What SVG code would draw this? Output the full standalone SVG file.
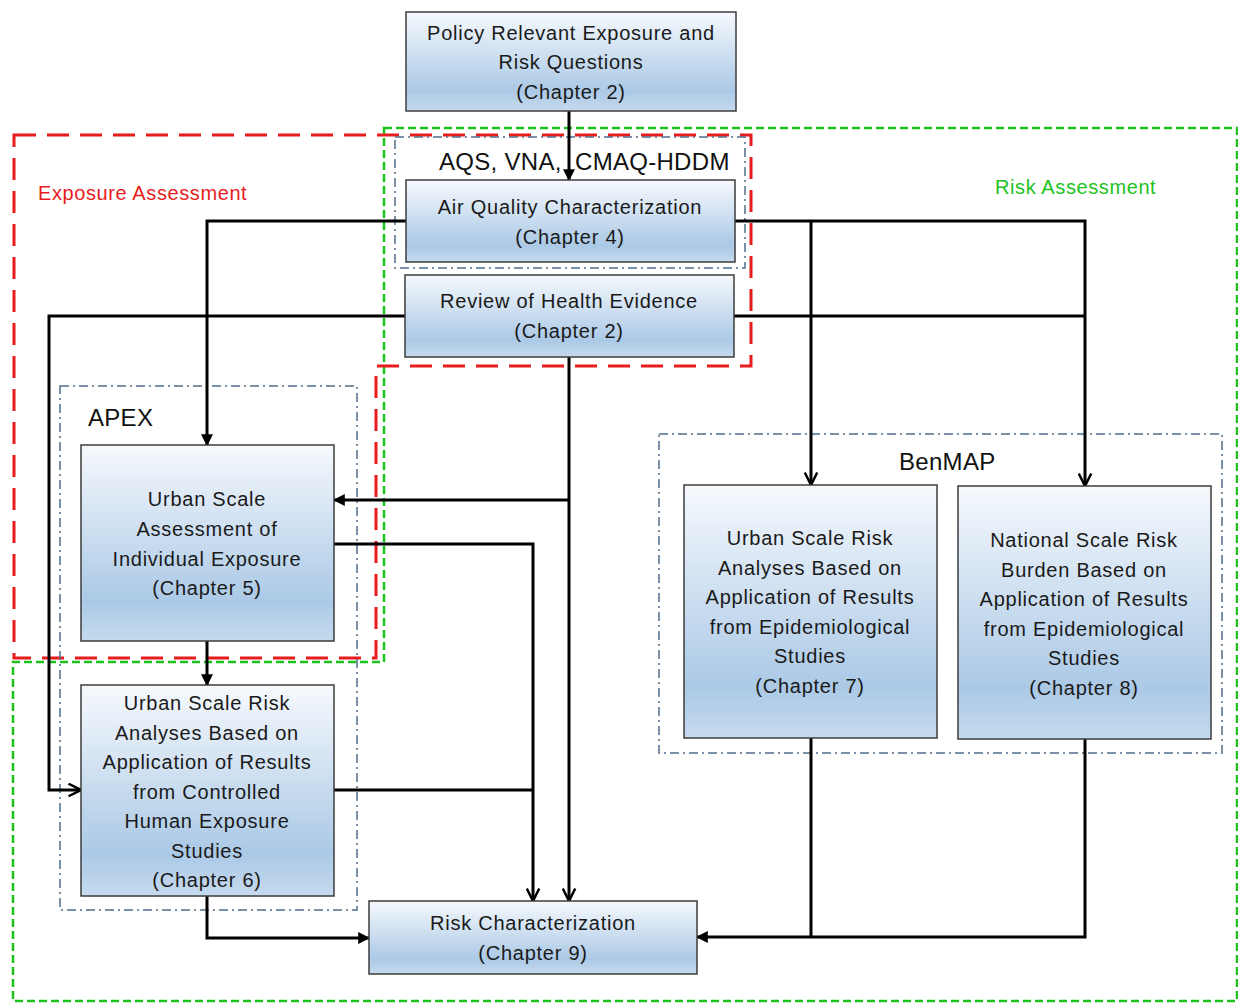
<svg xmlns="http://www.w3.org/2000/svg" width="1238" height="1004" viewBox="0 0 1238 1004">
  <defs>
    <linearGradient id="boxfill" x1="0" y1="0" x2="0" y2="1">
      <stop offset="0" stop-color="#f6f9fd"/>
      <stop offset="0.8" stop-color="#abc9e6"/>
      <stop offset="1" stop-color="#c6daee"/>
    </linearGradient>
    <marker id="tri" viewBox="0 0 10 10" refX="9" refY="5" markerWidth="4" markerHeight="4" orient="auto" markerUnits="strokeWidth">
      <path d="M0,0 L10,5 L0,10 Z" fill="#000"/>
    </marker>
    <marker id="chev" viewBox="0 0 12 12" refX="11" refY="6" markerWidth="5" markerHeight="5" orient="auto" markerUnits="strokeWidth">
      <path d="M1,1 L11,6 L1,11" fill="none" stroke="#000" stroke-width="2"/>
    </marker>
    <style>
      .box { fill: url(#boxfill); stroke: #3c3c3c; stroke-width: 1.5; }
      .t { font-family: "Liberation Sans", Arial, sans-serif; font-size: 20px; letter-spacing: 0.75px; fill: #1a1a1a; text-anchor: middle; }
      .tl { font-family: "Liberation Sans", Arial, sans-serif; font-size: 24px; letter-spacing: 0.3px; fill: #111; }
      .lbl { font-family: "Liberation Sans", Arial, sans-serif; font-size: 20px; letter-spacing: 0.6px; }
      .grp { fill: none; stroke: #4f6d8c; stroke-width: 1.5; stroke-dasharray: 9 4 2 4; }
      .red { fill: none; stroke: #e81c1c; stroke-width: 3; stroke-dasharray: 22 11; }
      .green { fill: none; stroke: #1ec21e; stroke-width: 2.5; stroke-dasharray: 8 4; }
      .c { fill: none; stroke: #000; stroke-width: 3; }
    </style>
  </defs>

  <rect width="1238" height="1004" fill="#fff"/>

  <!-- assessment regions -->
  <g id="regions">
    <path class="green" d="M384,128 H1237 V1001 H13 V662 H384 Z"/>
    <path class="red" d="M14,135 H751 V366 H376 V658 H14 Z"/>
    <text class="lbl" x="38" y="200" fill="#e81c1c">Exposure Assessment</text>
    <text class="lbl" x="995" y="194" fill="#1ec21e">Risk Assessment</text>
  </g>

  <!-- model groupings -->
  <g id="model-groups">
    <rect class="grp" x="395" y="137" width="350" height="131"/>
    <text class="tl" x="439" y="170">AQS, VNA, </text>
    <text class="tl" x="575" y="170">CMAQ-HDDM</text>
    <rect class="grp" x="60" y="386" width="297" height="524"/>
    <text class="tl" x="88" y="426">APEX</text>
    <rect class="grp" x="659" y="434" width="563" height="319"/>
    <text class="tl" x="899" y="470">BenMAP</text>
  </g>

  <!-- connectors -->
  <g id="connectors">
    <path class="c" d="M569,111 V180" marker-end="url(#tri)"/>
    <path class="c" d="M406,221 H207 V445" marker-end="url(#tri)"/>
    <path class="c" d="M735,221 H1085 V486" marker-end="url(#chev)"/>
    <path class="c" d="M811,221 V485" marker-end="url(#chev)"/>
    <path class="c" d="M405,316 H49 V790 H81" marker-end="url(#chev)"/>
    <path class="c" d="M734,316 H1085"/>
    <path class="c" d="M569,357 V901" marker-end="url(#chev)"/>
    <path class="c" d="M569,500 H334" marker-end="url(#tri)"/>
    <path class="c" d="M334,544 H533 V901" marker-end="url(#chev)"/>
    <path class="c" d="M334,790 H533"/>
    <path class="c" d="M207,641 V685" marker-end="url(#tri)"/>
    <path class="c" d="M207,896 V938 H369" marker-end="url(#tri)"/>
    <path class="c" d="M811,738 V937"/>
    <path class="c" d="M1085,739 V937 H697" marker-end="url(#tri)"/>
  </g>

  <g id="policy-questions">
    <rect class="box" x="406" y="12" width="330" height="99"/>
    <text class="t" x="571" y="40">Policy Relevant Exposure and</text>
    <text class="t" x="571" y="69">Risk Questions</text>
    <text class="t" x="571" y="99">(Chapter 2)</text>
  </g>

  <g id="air-quality">
    <rect class="box" x="406" y="180" width="329" height="82"/>
    <text class="t" x="570" y="214">Air Quality Characterization</text>
    <text class="t" x="570" y="244">(Chapter 4)</text>
  </g>

  <g id="health-evidence">
    <rect class="box" x="405" y="275" width="329" height="82"/>
    <text class="t" x="569" y="308">Review of Health Evidence</text>
    <text class="t" x="569" y="338">(Chapter 2)</text>
  </g>

  <g id="exposure-ch5">
    <rect class="box" x="81" y="445" width="253" height="196"/>
    <text class="t" x="207" y="506">Urban Scale</text>
    <text class="t" x="207" y="536">Assessment of</text>
    <text class="t" x="207" y="566">Individual Exposure</text>
    <text class="t" x="207" y="595">(Chapter 5)</text>
  </g>

  <g id="controlled-ch6">
    <rect class="box" x="81" y="685" width="253" height="211"/>
    <text class="t" x="207" y="710">Urban Scale Risk</text>
    <text class="t" x="207" y="740">Analyses Based on</text>
    <text class="t" x="207" y="769">Application of Results</text>
    <text class="t" x="207" y="799">from Controlled</text>
    <text class="t" x="207" y="828">Human Exposure</text>
    <text class="t" x="207" y="858">Studies</text>
    <text class="t" x="207" y="887">(Chapter 6)</text>
  </g>

  <g id="urban-epi-ch7">
    <rect class="box" x="684" y="485" width="253" height="253"/>
    <text class="t" x="810" y="545">Urban Scale Risk</text>
    <text class="t" x="810" y="575">Analyses Based on</text>
    <text class="t" x="810" y="604">Application of Results</text>
    <text class="t" x="810" y="634">from Epidemiological</text>
    <text class="t" x="810" y="663">Studies</text>
    <text class="t" x="810" y="693">(Chapter 7)</text>
  </g>

  <g id="national-epi-ch8">
    <rect class="box" x="958" y="486" width="253" height="253"/>
    <text class="t" x="1084" y="547">National Scale Risk</text>
    <text class="t" x="1084" y="577">Burden Based on</text>
    <text class="t" x="1084" y="606">Application of Results</text>
    <text class="t" x="1084" y="636">from Epidemiological</text>
    <text class="t" x="1084" y="665">Studies</text>
    <text class="t" x="1084" y="695">(Chapter 8)</text>
  </g>

  <g id="risk-characterization">
    <rect class="box" x="369" y="901" width="328" height="73"/>
    <text class="t" x="533" y="930">Risk Characterization</text>
    <text class="t" x="533" y="960">(Chapter 9)</text>
  </g>
</svg>
